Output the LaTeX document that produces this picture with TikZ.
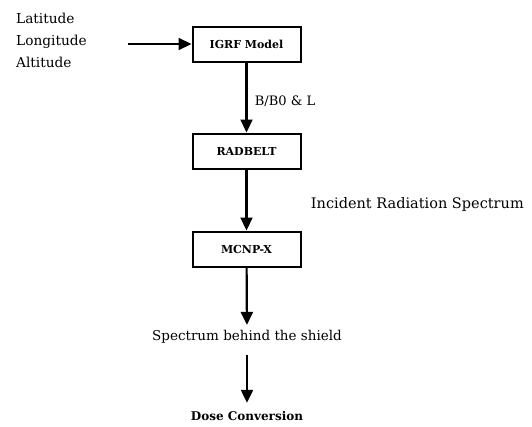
\documentclass[tikz,border=0pt]{standalone}
\usepackage{fontspec}
\setmainfont{DejaVu Serif}
\usetikzlibrary{arrows.meta}

\begin{document}
\begin{tikzpicture}[x=1pt,y=-1pt,>={Triangle[length=13pt,width=12pt]}]
  \tikzset{block/.style={draw,line width=2pt,minimum width=108pt,minimum height=35pt,inner sep=2pt,font=\fontsize{11}{14}\selectfont\bfseries},
    flow/.style={->,line width=2.2pt},
    txt/.style={font=\fontsize{14}{17}\selectfont}}
  \useasboundingbox (0,0) rectangle (532,426);
  % blocks
  \node[block] (igrf) at (246.5,44) {IGRF Model};
  \node[block] (radbelt) at (246.5,151) {RADBELT};
  \node[block] (mcnp) at (246.5,249) {MCNP-X};
  % free texts
  \node[txt,font=\fontsize{13.7}{16}\selectfont,anchor=west,align=left,inner sep=0pt] (inputs) at (16,40) {Latitude\\[6pt]Longitude\\[6pt]Altitude};
  \node[txt,font=\fontsize{13.5}{16}\selectfont] (behind) at (247,337) {Spectrum behind the shield};
  \node[txt,font=\fontsize{12}{16}\selectfont\bfseries] (dose) at (247,416) {Dose Conversion};
  \coordinate (in) at (128,44);
  % connectors
  \draw[flow] (in) -- (igrf.west);
  \draw[flow] (igrf) -- node[txt,font=\fontsize{13}{16}\selectfont,right=4pt,pos=0.55]{B/B0 \& L} (radbelt);
  \draw[flow] (radbelt) -- node[txt,font=\fontsize{14.5}{17}\selectfont,right=60pt,pos=0.58]{Incident Radiation Spectrum} (mcnp);
  \draw[flow,shorten >=2pt] (mcnp) -- (behind);
  \draw[flow,shorten <=8pt,shorten >=5pt] (behind) -- (dose);
\end{tikzpicture}
\end{document}
